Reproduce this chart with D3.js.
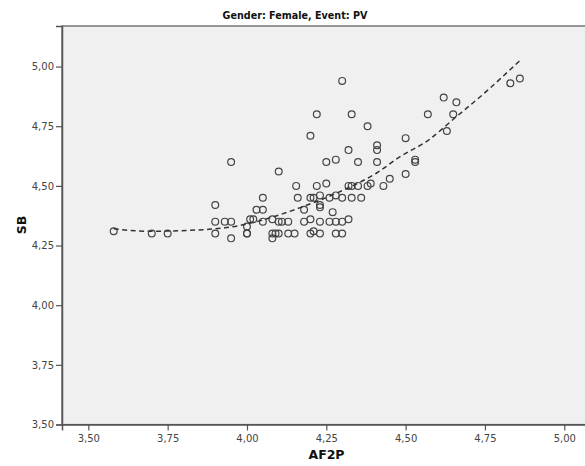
<!DOCTYPE html>
<html lang="en">
<head>
  <meta charset="utf-8">
  <title>SB x AF2P</title>
  <script src="https://d3js.org/d3.v7.min.js"></script>
  <style>
    body { margin: 0; background: #fff; }
    .mychart text { font-family: "DejaVu Sans", sans-serif; fill: #333; }
    .mychart .tick text { font-size: 10px; }
    .mychart .titulo { font-size: 9.6px; font-weight: bold; fill: #111; }
    .mychart .rotulo { font-size: 12.5px; font-weight: bold; fill: #111; }
  </style>
</head>
<body>
  <div class="mychart" id="chart"></div>

<script>
  // valores (AF2P no eixo x, SB no eixo y)
  var afp = [3.58, 3.70, 3.75, 3.90, 3.90, 3.90, 3.93, 3.95, 3.95, 3.95,
             4.00, 4.00, 4.00, 4.01, 4.02, 4.03, 4.05, 4.05, 4.05, 4.08,
             4.08, 4.09, 4.10, 4.08, 4.10, 4.10, 4.13, 4.13, 4.15, 4.155,
             4.16, 4.18, 4.18, 4.20, 4.21, 4.20, 4.21, 4.20, 4.23, 4.23,
             4.23, 4.23, 4.23, 4.22, 4.25, 4.25, 4.26, 4.26, 4.27, 4.28,
             4.28, 4.28, 4.28, 4.30, 4.30, 4.30, 4.30, 4.32, 4.32, 4.33,
             4.33, 4.33, 4.35, 4.35, 4.36, 4.38, 4.38, 4.39, 4.41, 4.41,
             4.41, 4.43, 4.45, 4.50, 4.50, 4.53, 4.53, 4.57, 4.62, 4.66,
             4.65, 4.63, 4.83, 4.86, 4.22, 4.20, 4.32, 4.11];
  var sb  = [4.31, 4.30, 4.30, 4.42, 4.35, 4.30, 4.35, 4.35, 4.60, 4.28,
             4.33, 4.30, 4.30, 4.36, 4.36, 4.40, 4.40, 4.45, 4.35, 4.36,
             4.30, 4.30, 4.30, 4.28, 4.56, 4.35, 4.35, 4.30, 4.30, 4.50,
             4.45, 4.40, 4.35, 4.45, 4.45, 4.30, 4.31, 4.36, 4.46, 4.42,
             4.41, 4.35, 4.30, 4.50, 4.51, 4.60, 4.45, 4.35, 4.39, 4.61,
             4.46, 4.35, 4.30, 4.45, 4.35, 4.30, 4.94, 4.65, 4.36, 4.50,
             4.45, 4.80, 4.60, 4.50, 4.45, 4.75, 4.50, 4.51, 4.67, 4.65,
             4.60, 4.50, 4.53, 4.55, 4.70, 4.61, 4.60, 4.80, 4.87, 4.85,
             4.80, 4.73, 4.93, 4.95, 4.80, 4.71, 4.50, 4.35];

  // curva de ajuste (tracejada)
  var fitX = [3.58, 3.69, 3.88, 4.00, 4.07, 4.17, 4.30, 4.41, 4.48, 4.57, 4.66, 4.745, 4.86];
  var fitY = [4.32, 4.31, 4.318, 4.34, 4.365, 4.41, 4.48, 4.555, 4.62, 4.69, 4.79, 4.885, 5.025];

  var xTicks = [3.50, 3.75, 4.00, 4.25, 4.50, 4.75, 5.00];
  var yTicks = [3.50, 3.75, 4.00, 4.25, 4.50, 4.75, 5.00];

  var titulo = "Gender: Female, Event: PV";
  var rotuloX = "AF2P", rotuloY = "SB";

  function desenhaGrafico() {
    var larguraSVG = 585, alturaSVG = 466;
    var margin = {top: 26, right: -1, bottom: 41.5, left: 62};
    var larguraVis = larguraSVG - margin.left - margin.right,
        alturaVis = alturaSVG - margin.top - margin.bottom;

    var svg = d3.select('#chart')
      .append('svg')
        .attr('width', larguraSVG)
        .attr('height', alturaSVG);

    var grafico = svg.append('g')
        .attr('transform', 'translate(' + margin.left + ',' + margin.top + ')');

    /*
     * As escalas
     */
    var x = d3.scaleLinear()
              .domain([3.417, 5.0685])
              .range([0, larguraVis]);
    var y = d3.scaleLinear()
              .domain([3.5, 5.17])
              .range([alturaVis, 0]);

    var fmt = function(d) { return d3.format('.2f')(d).replace('.', ','); };

    // fundo cinza da area de plotagem
    grafico.append('rect')
      .attr('width', larguraVis)
      .attr('height', alturaVis)
      .style('fill', '#f0f0f0')
      .style('stroke', '#555')
      .style('stroke-width', 1.2);

    /*
     * As marcas
     */
    var pontos = afp.map(function(d, i) { return {x: d, y: sb[i]}; });
    grafico.selectAll('circle')
      .data(pontos)
      .enter()
      .append('circle')
        .attr('r', 3.4)
        .attr('cx', d => x(d.x))
        .attr('cy', d => y(d.y))
        .style('fill', 'none')
        .style('stroke', '#444')
        .style('stroke-width', 1.2);

    var linha = d3.line()
      .x(d => x(d[0]))
      .y(d => y(d[1]))
      .curve(d3.curveMonotoneX);
    grafico.append('path')
      .datum(fitX.map(function(d, i) { return [d, fitY[i]]; }))
      .attr('d', linha)
      .style('fill', 'none')
      .style('stroke', '#333')
      .style('stroke-width', 1.5)
      .style('stroke-dasharray', '5,3.5');

    /*
     * Os eixos
     */
    var eixoX = grafico.append('g')
      .attr('transform', 'translate(0,' + alturaVis + ')')
      .call(d3.axisBottom(x).tickValues(xTicks).tickFormat(fmt).tickSize(6).tickPadding(4));
    var eixoY = grafico.append('g')
      .call(d3.axisLeft(y).tickValues(yTicks).tickFormat(fmt).tickSize(6).tickPadding(2));
    [eixoX, eixoY].forEach(function(e) {
      e.attr('font-family', null).attr('font-size', null);
      e.select('.domain').style('stroke', '#555').style('stroke-width', 1.5);
      e.selectAll('.tick line').style('stroke', '#555').style('stroke-width', 1.2);
      e.selectAll('.tick text').style('fill', '#444');
    });

    // titulo e rotulos
    svg.append('text')
      .attr('class', 'titulo')
      .attr('x', 295)
      .attr('y', 19)
      .attr('text-anchor', 'middle')
      .text(titulo);
    svg.append('text')
      .attr('class', 'rotulo')
      .attr('x', 326.5)
      .attr('y', 459)
      .attr('text-anchor', 'middle')
      .text(rotuloX);
    svg.append('text')
      .attr('class', 'rotulo')
      .attr('transform', 'translate(26,225) rotate(-90)')
      .attr('text-anchor', 'middle')
      .text(rotuloY);
  }

  desenhaGrafico();
</script>
</body>
</html>
